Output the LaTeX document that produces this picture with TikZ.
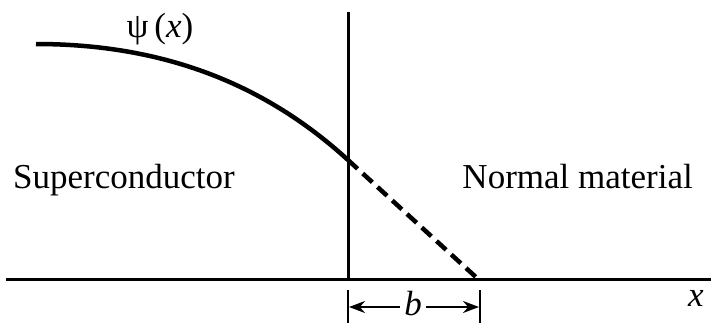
\documentclass[tikz,border=0pt]{standalone}
\usepackage{fontspec}
\setmainfont{Liberation Serif}
\usetikzlibrary{arrows.meta,positioning}
\tikzset{
  phaxis/.style={line width=3pt, draw=black},
  phcurve/.style={line width=4.5pt, draw=black},
  phdash/.style={line width=4.5pt, draw=black, dash pattern=on 13pt off 7pt},
  phlabel/.style={font=\fontsize{35}{40}\selectfont, inner sep=0pt},
  phtick/.style={line width=2.2pt, draw=black},
  phdim/.style={-{Stealth[length=16pt,width=12pt]}, line width=2.2pt, draw=black},
}
\begin{document}
\begin{tikzpicture}[x=1pt, y=-1pt]
  \useasboundingbox (0,0) rectangle (711,325);
  % axis and boundary
  \coordinate (axl) at (6,279);
  \coordinate (axr) at (711,279);
  \coordinate (bdtop) at (348,12);
  \coordinate (bdbot) at (348,279);
  \draw[phaxis] (axl) -- (axr);
  \draw[phaxis] (bdtop) -- (bdbot);
  % order parameter
  \coordinate (psi0) at (36,44);
  \coordinate (psib) at (348,160);
  \coordinate (xb) at (478,279);
  \draw[phcurve] (psi0) .. controls (165,44) and (266,85) .. (psib);
  \draw[phdash] (psib) -- (xb);
  % labels
  \node (psilbl) [phlabel] at (160,29) {ψ\,(\textit{x})};
  \node (sclbl) [phlabel, anchor=base west] at (13,188) {Superconductor};
  \node (nmlbl) [phlabel, anchor=base east] at (693,188) {Normal material};
  \node (xlbl) [phlabel] at (696,298) {\textit{x}};
  % extrapolation length
  \coordinate (tl1) at (348,290);
  \coordinate (tl2) at (348,323);
  \coordinate (tr1) at (480,290);
  \coordinate (tr2) at (480,323);
  \draw[phtick] (tl1) -- (tl2);
  \draw[phtick] (tr1) -- (tr2);
  \node (blbl) [phlabel] at (413,304) {\textit{b}};
  \coordinate (bl) at (349,307);
  \coordinate (br) at (479,307);
  \draw[phdim] ([xshift=-4pt]blbl.west |- bl) -- (bl);
  \draw[phdim] ([xshift=4pt]blbl.east |- br) -- (br);
\end{tikzpicture}
\end{document}
